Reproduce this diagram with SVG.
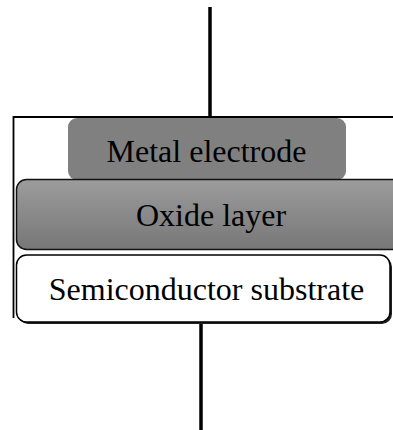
<svg xmlns="http://www.w3.org/2000/svg" width="393" height="430" viewBox="0 0 393 430">
<style>
.lbl{font-family:"Liberation Serif","Times New Roman",serif;font-size:32px;fill:#000;text-anchor:middle}
.wire{stroke:#000;stroke-width:3.5;fill:none}
</style>
<defs>
<linearGradient id="ox" x1="0" y1="0" x2="0" y2="1">
<stop offset="0" stop-color="#9c9c9c"/>
<stop offset="1" stop-color="#777"/>
</linearGradient>
</defs>
<g id="connectors">
<line class="wire" x1="210" y1="7" x2="210" y2="117"/>
<line class="wire" x1="201" y1="323" x2="201" y2="430"/>
</g>
<g id="outer">
<path d="M395 117 H13.5 V318" fill="none" stroke="#000" stroke-width="1.8"/>
</g>
<g id="metal">
<rect x="68" y="118" width="278" height="62" rx="9" fill="#808080"/>
<text class="lbl" x="206.5" y="162">Metal electrode</text>
</g>
<g id="oxide">
<rect x="16.5" y="179.5" width="390" height="70" rx="10" fill="url(#ox)" stroke="#111" stroke-width="1.5"/>
<text class="lbl" x="211" y="226">Oxide layer</text>
</g>
<g id="substrate">
<rect x="18" y="257" width="374" height="67" rx="10" fill="#222"/>
<rect x="16.5" y="255" width="373.5" height="67" rx="10" fill="#fff" stroke="#000" stroke-width="1.5"/>
<text class="lbl" x="206.5" y="300">Semiconductor substrate</text>
</g>
</svg>
